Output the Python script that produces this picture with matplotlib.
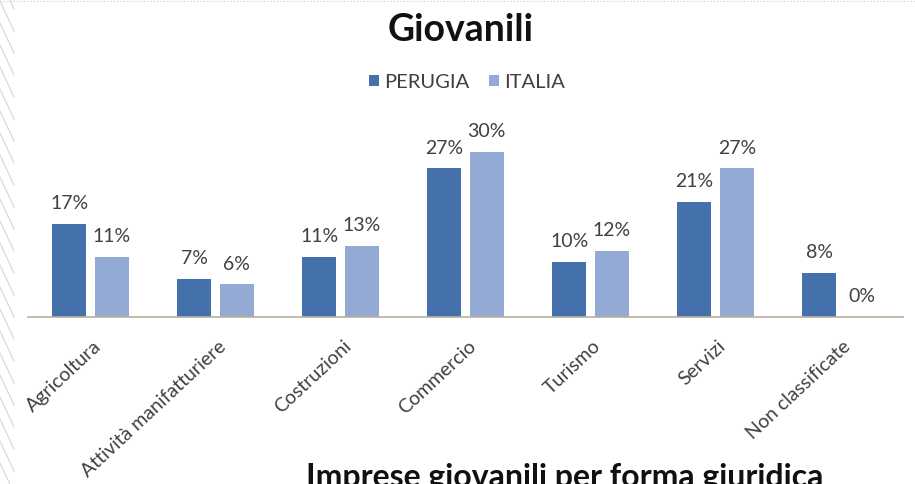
import matplotlib
matplotlib.use("Agg")
import matplotlib.pyplot as plt
import matplotlib.transforms as mtransforms
import numpy as np
from matplotlib.lines import Line2D

categories = ["Agricoltura", "Attività manifatturiere", "Costruzioni", "Commercio",
              "Turismo", "Servizi", "Non classificate"]
perugia = [17, 7, 11, 27, 10, 21, 8]
italia = [11, 6, 13, 30, 12, 27, 0]

c_perugia = "#4470AC"
c_italia = "#93ABD4"
text_col = "#404040"

plt.rcParams["font.family"] = ["Lato", "DejaVu Sans"]

fig = plt.figure(figsize=(9.15, 4.85), dpi=100)
ax = fig.add_axes([28 / 915, 1 - 318 / 485, 875 / 915, 192.5 / 485])

x = np.arange(len(categories))
w = 0.27
off = 0.17
b1 = ax.bar(x - off, perugia, w, color=c_perugia, label="PERUGIA")
b2 = ax.bar(x + off, italia, w, color=c_italia, label="ITALIA")

for bars, vals in ((b1, perugia), (b2, italia)):
    for r, v in zip(bars, vals):
        ax.annotate(f"{v}%", (r.get_x() + r.get_width() / 2, v),
                    xytext=(0, 9), textcoords="offset points",
                    ha="center", va="bottom", fontsize=14, color=text_col)

ax.set_xlim(-0.5, len(categories) - 0.5)
ax.set_ylim(0, 35)
ax.set_yticks([])
for s in ("top", "right", "left"):
    ax.spines[s].set_visible(False)
ax.spines["bottom"].set_color("#B8B0A0")
ax.spines["bottom"].set_linewidth(1.2)
ax.set_xticks(x)
ax.set_xticklabels(categories, rotation=43, ha="right", rotation_mode="anchor",
                   fontsize=14, color=text_col)
ax.tick_params(axis="x", length=0, pad=14)
shift = mtransforms.ScaledTranslation(2 / 100, 0, fig.dpi_scale_trans)
for lab in ax.get_xticklabels():
    lab.set_transform(lab.get_transform() + shift)

fig.text(461 / 915, 1 - 30 / 485, "Giovanili", ha="center", va="center",
         fontsize=27, fontweight="bold", color="#111111")

fig.legend(handles=[b1, b2], labels=["PERUGIA", "ITALIA"], loc="center",
           bbox_to_anchor=(467 / 915, 1 - 83 / 485), ncol=2, frameon=False,
           fontsize=14.5, handlelength=0.5, handleheight=0.5, handletextpad=0.25,
           columnspacing=1.0, labelcolor=text_col)

fig.text(565 / 915, 1 - 463 / 485, "Imprese giovanili per forma giuridica",
         ha="center", va="top", fontsize=23, fontweight="bold", color="#111111")

# slide border decorations: dotted top rule and diagonal hatching on the left edge
fig.add_artist(Line2D([0, 1], [1 - 2 / 485, 1 - 2 / 485], transform=fig.transFigure,
                      color="#C8C8C8", lw=0.8, ls=(0, (1, 2))))
for y0 in np.arange(-20, 485, 22):
    fig.add_artist(Line2D([0, 14 / 915], [1 - y0 / 485, 1 - (y0 + 30) / 485],
                          transform=fig.transFigure, color="#D0D0D0", lw=0.7))

fig.savefig("out.png", dpi=100)
